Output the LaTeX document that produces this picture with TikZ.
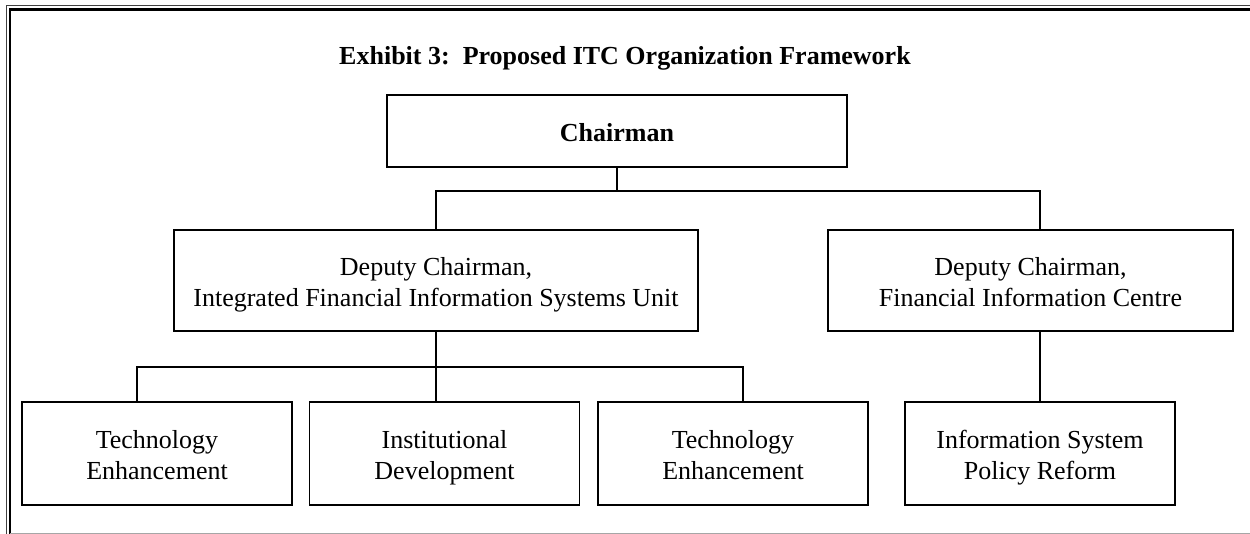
\documentclass[tikz,border=0pt]{standalone}
\usepackage{fontspec}
\setmainfont{Liberation Serif}
\usetikzlibrary{positioning}

\newcommand\rup{\rule{0pt}{14pt}}
\newcommand\rdn{\rule[-3pt]{0pt}{3pt}}

\tikzset{
  unit/.style={draw, line width=0.8pt, align=center, inner sep=0pt,
    font=\fontsize{13}{15.5}\selectfont},
  link/.style={line width=0.6pt},
}

\begin{document}
\begin{tikzpicture}[x=0.5pt, y=-0.5pt]

  \newcommand\UW{135pt};
  \newcommand\UH{51.5pt};

  \useasboundingbox (0,0) rectangle (1250,534);

  % frame
  \draw[line width=0.5pt, black!75] (6.5,534) -- (6.5,6) -- (1250,6);
  \draw[line width=1.1pt] (10,534) -- (10,9.5) -- (1250,9.5);
  \draw[line width=0.5pt, black!35] (10,533.2) -- (1250,533.2);

  \node[font=\fontsize{13}{15.5}\selectfont\bfseries] (title) at (625,58)
    {Exhibit 3:\ \ Proposed ITC Organization Framework};

  \node[unit, minimum width=230pt, minimum height=36pt] (chair) at (617,131)
    {\rup\textbf{Chairman}\rdn};

  \node[unit, minimum width=262pt, minimum height=50.5pt] (dep1) at (436,280.5)
    {\rup Deputy Chairman,\\Integrated Financial Information Systems Unit\rdn};
  \node[unit, minimum width=202.5pt, minimum height=50.5pt] (dep2) at (1030.5,280.5)
    {\rup Deputy Chairman,\\Financial Information Centre\rdn};

  \node[unit, minimum width=\UW, minimum height=\UH] (tech1) at (157,453.5)
    {\rup Technology\\Enhancement\rdn};
  \node[unit, minimum width=\UW, minimum height=\UH] (inst) at (444.5,453.5)
    {\rup Institutional\\Development\rdn};
  \node[unit, minimum width=\UW, minimum height=\UH] (tech2) at (733,453.5)
    {\rup Technology\\Enhancement\rdn};
  \node[unit, minimum width=\UW, minimum height=\UH] (policy) at (1040,453.5)
    {\rup Information System\\Policy Reform\rdn};

  \coordinate (topbar) at (617,191);
  \coordinate (lowL) at (137,367);
  \coordinate (lowR) at (743,367);

  \draw[link] (chair.south) -- (topbar);
  \draw[link] (dep1.north) |- (topbar -| policy.north) -- (dep2.north -| policy.north);
  \draw[link] (dep2.south -| policy.north) -- (policy.north);

  \draw[link] (dep1.south) -- (dep1.south |- inst.north);
  \draw[link] (lowL |- tech1.north) -- (lowL) -- (lowR) -- (lowR |- tech2.north);

\end{tikzpicture}
\end{document}
